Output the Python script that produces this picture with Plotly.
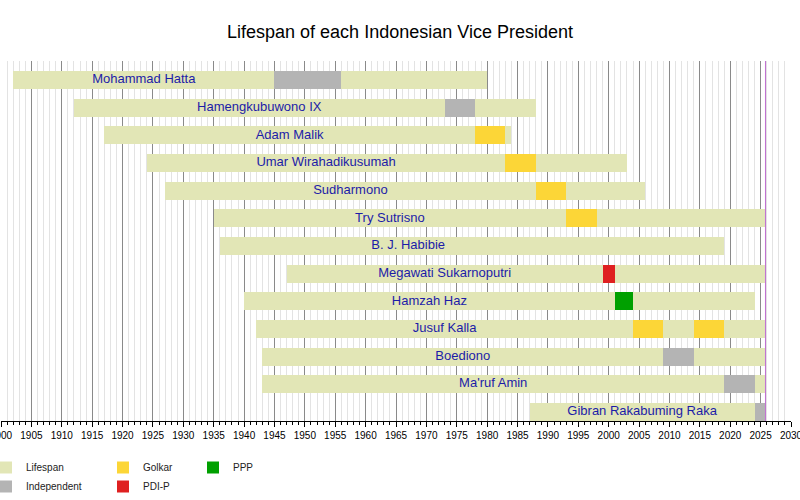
import plotly.graph_objects as go

# dados de cada vice-presidente (linha 0 = topo)
nomes = ["Mohammad Hatta", "Hamengkubuwono IX", "Adam Malik", "Umar Wirahadikusumah",
         "Sudharmono", "Try Sutrisno", "B. J. Habibie", "Megawati Sukarnoputri",
         "Hamzah Haz", "Jusuf Kalla", "Boediono", "Ma'ruf Amin", "Gibran Rakabuming Raka"]
nascimento = [1902, 1912, 1917, 1924, 1927, 1935, 1936, 1947, 1940, 1942, 1943, 1943, 1987]
morte = [1980, 1988, 1984, 2003, 2006, None, 2019, None, 2024, None, None, None, None]
inicio_vp = [1945, 1973, 1978, 1983, 1988, 1993, 1998, 1999, 2001, 2004, 2009, 2019, 2024]

hoje = 2025.8

# mandatos: linha, partido, inicio, fim
mandato_linha = [0, 1, 2, 3, 4, 5, 7, 8, 9, 9, 10, 11, 12]
mandato_partido = ["Independent", "Independent", "Golkar", "Golkar", "Golkar", "Golkar",
                   "PDI-P", "PPP", "Golkar", "Golkar", "Independent", "Independent", "Independent"]
mandato_inicio = [1945, 1973, 1978, 1983, 1988, 1993, 1999, 2001, 2004, 2014, 2009, 2019, 2024]
mandato_fim = [1956, 1978, 1983, 1988, 1993, 1998, 2001, 2004, 2009, 2019, 2014, 2024, None]

cores = {
    "Lifespan": "#e2e6b6",
    "Independent": "#b4b4b4",
    "Golkar": "#fcd637",
    "PDI-P": "#df2020",
    "PPP": "#00a000",
    "PKB": "#007a55",
}
# grupos de legenda (colunas)
legenda_grupo = {"Lifespan": "legend", "Independent": "legend",
                 "Golkar": "legend2", "PDI-P": "legend2",
                 "PPP": "legend3", "PKB": "legend3"}

FONTE = "Liberation Sans, Arial, sans-serif"
LARGURA_BARRA = 0.65

fim_vida = [m if m is not None else hoje for m in morte]
linhas = list(range(len(nomes)))

fig = go.Figure()

# barras de vida
fig.add_trace(go.Bar(
    y=linhas, base=nascimento,
    x=[f - n for f, n in zip(fim_vida, nascimento)],
    orientation="h", width=LARGURA_BARRA,
    marker=dict(color=cores["Lifespan"], line_width=0),
    name="Lifespan", legend=legenda_grupo["Lifespan"],
    hovertext=nomes, hoverinfo="text",
))

# barras de mandato por partido
for partido in ["Independent", "Golkar", "PDI-P", "PPP", "PKB"]:
    ys, bases, comp = [], [], []
    for l, p, i, f in zip(mandato_linha, mandato_partido, mandato_inicio, mandato_fim):
        if p != partido:
            continue
        f = f if f is not None else hoje
        ys.append(l)
        bases.append(i)
        comp.append(f - i)
    fig.add_trace(go.Bar(
        y=ys, base=bases, x=comp,
        orientation="h", width=LARGURA_BARRA,
        marker=dict(color=cores[partido], line_width=0),
        name=partido, legend=legenda_grupo[partido],
        showlegend=True, hoverinfo="skip",
    ))

# nomes: centrados entre o nascimento e o inicio do mandato
fig.add_trace(go.Scatter(
    x=[(n + v) / 2 for n, v in zip(nascimento, inicio_vp)],
    y=linhas, mode="text", text=nomes,
    textfont=dict(family=FONTE, size=13, color="#1c1ca8"),
    showlegend=False, hoverinfo="skip",
))

fig.add_vline(x=hoje, line=dict(color="#c070d0", width=1), layer="above")

# legendas em 3 colunas (x em coordenadas do papel, pode ser negativo)
leg_base = dict(orientation="v", xref="paper", yref="container",
                xanchor="left", yanchor="top", y=1 - 453 / 500,
                font=dict(family=FONTE, size=10, color="#222"),
                bgcolor="rgba(0,0,0,0)", borderwidth=0, tracegroupgap=0,
                itemclick=False)
LARG_PLOT = 790

fig.update_layout(
    width=800, height=500,
    title=dict(text="Lifespan of each Indonesian Vice President",
               x=0.5, xanchor="center", y=1 - 32 / 500, yanchor="middle",
               font=dict(family=FONTE, size=18, color="black")),
    font=dict(family=FONTE),
    plot_bgcolor="white", paper_bgcolor="white",
    margin=dict(l=1, r=9, t=61, b=79, autoexpand=False),
    barmode="overlay", bargap=0,
    xaxis=dict(range=[1900, 2030], dtick=5, tick0=1900, tickangle=0,
               showgrid=True, gridcolor="#8a8a8a", gridwidth=1,
               ticks="outside", ticklen=5, tickcolor="black",
               showline=True, linecolor="black", linewidth=1,
               tickfont=dict(family=FONTE, size=10, color="black"),
               ticklabeloverflow="allow",
               zeroline=False, automargin=False,
               minor=dict(dtick=1, showgrid=True, gridcolor="#e3e3e3",
                          ticks="outside", ticklen=3, tickcolor="black")),
    yaxis=dict(range=[12.33, -0.69], showticklabels=False, showgrid=False,
               zeroline=False, ticks="", automargin=False),
    legend=dict(leg_base, x=(0 - 15) / LARG_PLOT),
    legend2=dict(leg_base, x=(117 - 15) / LARG_PLOT),
    legend3=dict(leg_base, x=(207 - 15) / LARG_PLOT),
    showlegend=True,
)

# sem a margem padrao do body, para o grafico ocupar a janela toda
fig.write_html("out.html", config={"displayModeBar": False},
               post_script="document.body.style.margin='0';")
